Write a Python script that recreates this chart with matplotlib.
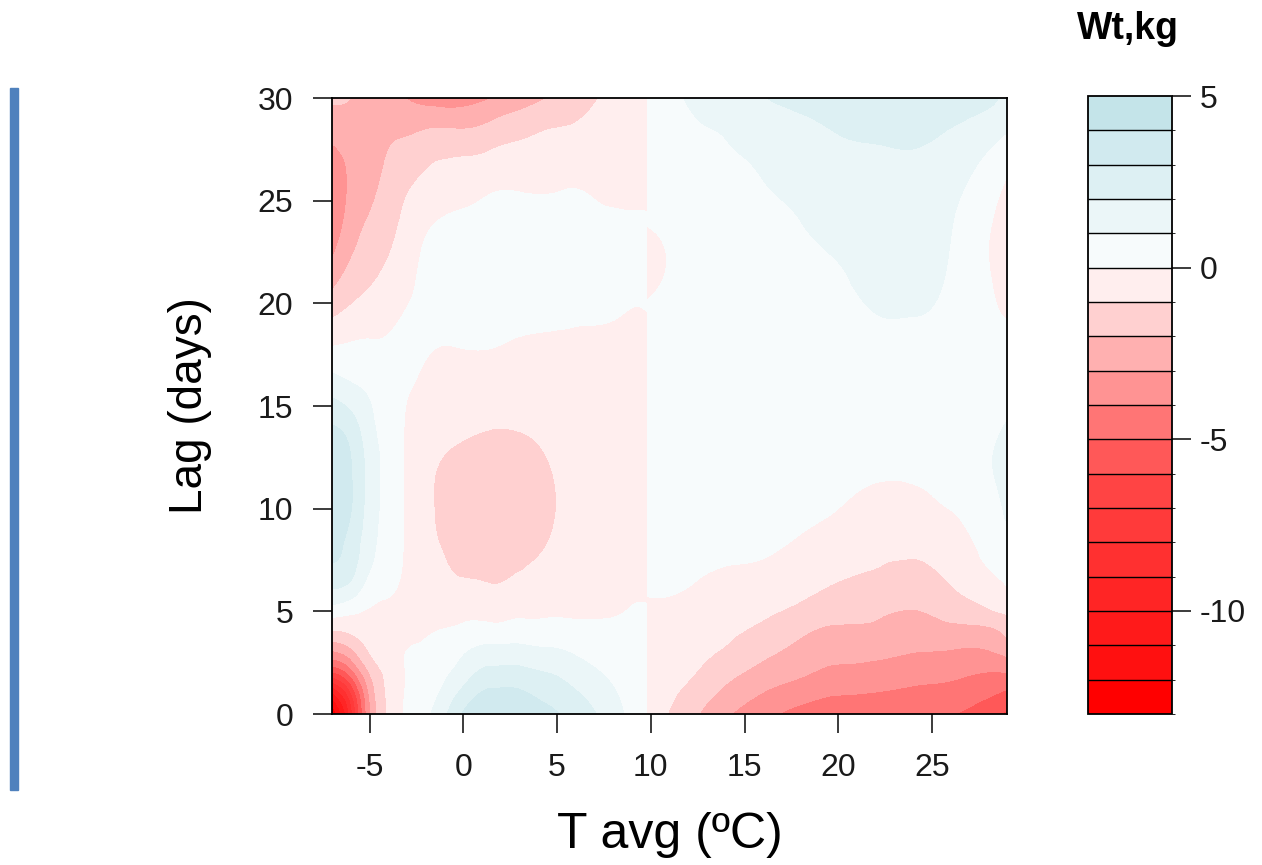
import numpy as np
import matplotlib
matplotlib.use("Agg")
import matplotlib.pyplot as plt
import matplotlib.tri as mtri
from matplotlib.colors import ListedColormap, BoundaryNorm
from matplotlib.patches import Rectangle

plt.rcParams['font.family'] = ['Liberation Sans', 'DejaVu Sans']
plt.rcParams['axes.unicode_minus'] = False

# Lag grid (days) shared by both temperature blocks
lags = [0, 1, 2, 3, 4, 5, 6, 8, 10, 12, 14, 16, 18, 20, 22, 24, 26, 28, 30]

# Temperatures below the 9.8 °C break; one row of weight effects per temperature
temp_low = [-7, -6, -5, -4, -3, -1.5, 0, 1.5, 3, 4.5, 6, 7.5, 9, 9.8]
wt_low = [
    [-13, -10.3, -6.2, -3.2, -1.1, 0.5, 1.9, 3.2, 3.6, 3.6, 3.05, 1.5, -0.08, -1.55, -2.9, -3.8, -3.6, -2.9, -1.8],
    [-8.5, -7.2, -4.6, -2.4, -0.9, 0.2, 1.5, 2.6, 3.05, 3.05, 2.5, 1.1, 0.05, -1.05, -1.95, -2.6, -2.9, -2.75, -2.0],
    [-3.2, -2.9, -2.0, -1.0, -0.55, -0.1, 0.5, 1.3, 1.55, 1.6, 1.3, 0.8, 0.1, -0.7, -1.4, -1.9, -2.4, -2.7, -2.6],
    [-0.9, -0.85, -0.75, -0.6, -0.5, -0.3, 0.15, 0.55, 0.65, 0.65, 0.55, 0.4, 0.1, -0.4, -0.95, -1.35, -1.7, -2.15, -2.85],
    [0.15, 0.1, 0.05, 0.03, -0.35, -0.45, -0.3, -0.15, -0.15, -0.15, -0.1, 0.1, 0.25, -0.05, -0.45, -0.75, -1.2, -1.95, -3.05],
    [1.2, 0.85, 0.55, 0.25, 0.0, -0.4, -0.6, -0.9, -1.02, -0.97, -0.65, -0.3, 0.05, 0.45, 0.45, -0.03, -0.7, -1.6, -3.5],
    [3.1, 2.3, 1.5, 0.9, 0.25, -0.3, -0.8, -1.2, -1.35, -1.25, -0.85, -0.4, 0.05, 0.45, 0.5, 0.15, -0.45, -1.6, -3.45],
    [3.6, 3.2, 2.3, 1.4, 0.35, -0.3, -0.85, -1.3, -1.5, -1.4, -0.97, -0.5, 0.05, 0.4, 0.5, 0.35, -0.25, -1.35, -3.0],
    [3.6, 3.15, 2.3, 1.4, 0.45, -0.2, -0.7, -1.2, -1.45, -1.3, -0.95, -0.5, -0.1, 0.35, 0.45, 0.35, -0.2, -1.05, -2.5],
    [3.2, 2.7, 2.0, 1.2, 0.4, -0.15, -0.5, -0.95, -1.15, -1.05, -0.8, -0.5, -0.15, 0.3, 0.45, 0.35, -0.2, -0.8, -2.0],
    [2.6, 2.1, 1.5, 0.9, 0.3, -0.15, -0.4, -0.6, -0.7, -0.65, -0.55, -0.4, -0.15, 0.2, 0.4, 0.3, -0.1, -0.7, -1.5],
    [1.75, 1.4, 0.95, 0.55, 0.2, -0.1, -0.3, -0.45, -0.5, -0.5, -0.45, -0.35, -0.15, 0.15, 0.3, 0.15, -0.25, -0.55, -0.9],
    [0.7, 0.55, 0.35, 0.2, 0.1, 0.03, -0.1, -0.25, -0.3, -0.3, -0.3, -0.25, -0.15, 0.02, 0.15, 0.05, -0.15, -0.35, -0.55],
    [0.3, 0.25, 0.15, 0.1, 0.05, 0.02, -0.05, -0.2, -0.25, -0.25, -0.25, -0.2, -0.12, 0.03, 0.1, 0.03, -0.1, -0.25, -0.35],
]

# Temperatures above the break
temp_high = [9.8, 11, 12.5, 14, 16, 18, 20, 22, 24, 26, 28, 29]
wt_high = [
    [-0.7, -0.6, -0.5, -0.4, -0.3, -0.15, 0.05, 0.2, 0.3, 0.3, 0.3, 0.25, 0.15, 0.02, -0.3, 0.05, 0.3, 0.5, 0.6],
    [-1.05, -0.85, -0.65, -0.45, -0.3, -0.15, 0.05, 0.25, 0.35, 0.4, 0.4, 0.35, 0.3, 0.2, 0.05, 0.2, 0.4, 0.65, 0.85],
    [-1.95, -1.5, -1.05, -0.75, -0.5, -0.3, -0.1, 0.2, 0.35, 0.45, 0.5, 0.5, 0.5, 0.5, 0.5, 0.55, 0.7, 0.9, 1.1],
    [-2.85, -2.25, -1.7, -1.15, -0.8, -0.55, -0.3, 0.15, 0.35, 0.45, 0.5, 0.55, 0.6, 0.65, 0.7, 0.75, 0.85, 1.0, 1.3],
    [-3.7, -3.05, -2.35, -1.8, -1.25, -0.85, -0.5, 0.1, 0.35, 0.45, 0.5, 0.55, 0.6, 0.7, 0.75, 0.85, 1.0, 1.3, 1.95],
    [-4.3, -3.6, -2.85, -2.3, -1.85, -1.25, -0.8, -0.2, 0.25, 0.4, 0.5, 0.6, 0.7, 0.8, 0.9, 1.0, 1.25, 1.65, 2.25],
    [-4.6, -3.95, -3.3, -2.65, -2.2, -1.6, -1.15, -0.55, 0.0, 0.3, 0.45, 0.55, 0.7, 0.85, 1.0, 1.3, 1.6, 1.95, 2.45],
    [-4.8, -4.05, -3.4, -2.75, -2.2, -1.85, -1.4, -0.8, -0.3, 0.15, 0.45, 0.65, 0.85, 1.05, 1.25, 1.45, 1.7, 2.05, 2.55],
    [-4.9, -4.25, -3.6, -3.0, -2.55, -2.05, -1.6, -0.85, -0.25, 0.15, 0.5, 0.75, 0.9, 1.05, 1.2, 1.4, 1.7, 2.1, 2.55],
    [-4.95, -4.4, -3.75, -3.1, -2.35, -1.65, -1.1, -0.6, 0.02, 0.35, 0.55, 0.65, 0.75, 0.85, 0.95, 1.05, 1.35, 1.85, 2.45],
    [-5.6, -4.85, -4.05, -3.1, -2.3, -1.15, -0.5, 0.3, 0.6, 0.9, 0.8, 0.5, 0.25, 0.15, 0.02, 0.1, 0.5, 1.25, 2.3],
    [-6.2, -5.2, -4.0, -2.75, -1.7, -0.85, -0.1, 0.65, 1.15, 1.3, 1.05, 0.7, 0.3, -0.2, -0.45, -0.3, -0.05, 0.85, 1.65],
]

levels = list(range(-13, 6))
fill_colors = [
    "#FF0000", "#FF1010", "#FF1A1A", "#FF2525", "#FF3030", "#FF3A3A", "#FF4444",
    "#FF5858", "#FF7575", "#FF9393", "#FFB0B0", "#FFD0D0", "#FFEEEE",
    "#F7FBFC", "#EBF6F8", "#DDF0F3", "#D1EAEF", "#C4E4E9",
]

cmap = ListedColormap(fill_colors)
cmap.set_under(fill_colors[0])
cmap.set_over(fill_colors[-1])
norm = BoundaryNorm(levels, cmap.N)

W, H = 1262, 865
fig = plt.figure(figsize=(W / 100, H / 100), dpi=100)
ax = fig.add_axes([332 / W, 1 - 714 / H, 675 / W, 616 / H])
cax = fig.add_axes([1088 / W, 1 - 714 / H, 84 / W, 618 / H])

for temps, wt in ((temp_low, wt_low), (temp_high, wt_high)):
    tt, ll = np.meshgrid(temps, lags, indexing="ij")
    z = np.asarray(wt, dtype=float).ravel()
    tri = mtri.Triangulation(tt.ravel(), ll.ravel())
    interp = mtri.CubicTriInterpolator(tri, z, kind="min_E")
    tri_f, z_f = mtri.UniformTriRefiner(tri).refine_field(z, triinterpolator=interp, subdiv=4)
    ax.tricontourf(tri_f, z_f, levels=levels, cmap=cmap, norm=norm, extend="both")

tick_color = "#1a1a1a"
ax.set_xlim(-7.0, 29.0)
ax.set_ylim(0, 30)
ax.set_xticks(range(-5, 30, 5))
ax.set_yticks(range(0, 31, 5))
ax.tick_params(direction="out", length=14, width=1.2, labelsize=23, pad=14,
               colors=tick_color)
for s in ax.spines.values():
    s.set_linewidth(1.3)
ax.set_xlabel("T avg (ºC)", fontsize=36, va="center")
ax.set_ylabel("Lag (days)", fontsize=33, va="center")
ax.xaxis.set_label_coords(0.5, (714 - 835) / 616)
ax.yaxis.set_label_coords((190 - 332) / 675, 0.5)

sm = plt.cm.ScalarMappable(norm=norm, cmap=cmap)
cb = fig.colorbar(sm, cax=cax, boundaries=levels, ticks=[-10, -5, 0, 5],
                  drawedges=True, extend="neither")
cb.dividers.set_color("black")
cb.dividers.set_linewidth(1.0)
cb.outline.set_linewidth(1.3)
cb.ax.tick_params(direction="out", length=14, width=1.2, labelsize=23, pad=6,
                  colors=tick_color)

fig.text(1128 / W, 1 - 29 / H, "Wt,kg", ha="center", va="center",
         fontsize=27, fontweight="bold")

fig.patches.append(Rectangle((10 / W, 1 - 790 / H), 8 / W, 702 / H,
                             transform=fig.transFigure, color="#4F81BD"))

fig.savefig("out.png", dpi=100)
